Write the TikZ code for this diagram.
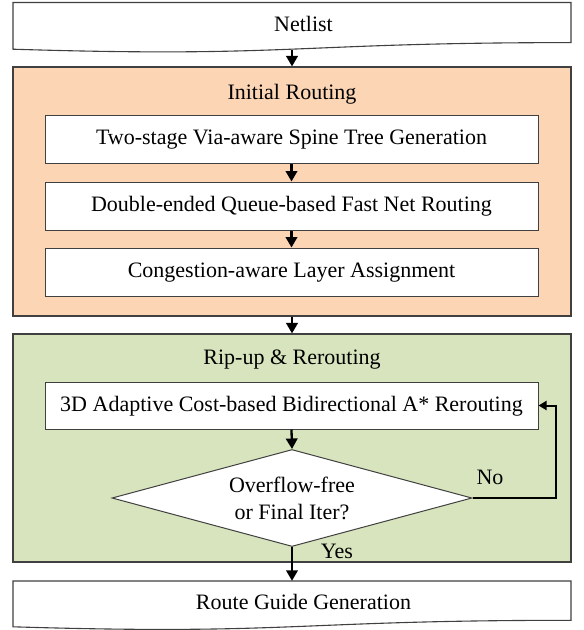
\documentclass[tikz,border=0pt]{standalone}
\usepackage{fontspec}
\setmainfont{Liberation Serif}
\newfontfamily\flowfont{Liberation Serif}
\usetikzlibrary{arrows.meta,shapes.geometric,calc}

\definecolor{peach}{HTML}{FCD5B5}
\definecolor{olive}{HTML}{D7E4BD}
\definecolor{edge}{HTML}{404040}

\tikzset{
  every node/.style={font=\flowfont\fontsize{22}{27}\selectfont},
  capcentre/.style={text height=14.6pt, text depth=3pt, inner sep=0pt},
  panel/.style={draw=edge, line width=1.1pt, minimum width=558pt, inner sep=0pt},
  stepbox/.style={capcentre, draw=edge, line width=1pt, fill=white,
                  minimum width=493pt, minimum height=48pt},
  docbox/.style={capcentre},
  docline/.style={draw=edge, line width=1.1pt, fill=white},
  decision/.style={diamond, draw=edge, line width=1pt, fill=white, inner sep=0pt,
                   minimum width=360pt, minimum height=97pt, aspect=3.7, align=center},
  flow/.style={line width=2.3pt, -{Triangle[length=10.5pt,width=11.5pt]}},
  back/.style={line width=2pt, -{Triangle[length=8pt,width=9pt]}},
  title/.style={capcentre}
}

\begin{document}
\begin{tikzpicture}[x=1pt,y=-1pt]
\useasboundingbox (0,0) rectangle (584,630);

% input document
\path[docline] (13,2.5) -- (571,2.5) -- (571,42.6)
  .. controls (292,42.6) and (292,57.9) .. (13,49.2) -- cycle;
\node[docbox, minimum height=47pt] (netlist) at (303.5,26) {Netlist};

% initial routing stage
\node[panel, fill=peach, minimum height=249pt] (initpanel) at (292,191.5) {};
\node[title] (inittitle) at (292,93.5) {Initial Routing};
\node[stepbox] (spine) at (291.5,139) {Two-stage Via-aware Spine Tree Generation};
\node[stepbox] (deque) at (291.5,206) {Double-ended Queue-based Fast Net Routing};
\node[stepbox] (layer) at (291.5,272) {Congestion-aware Layer Assignment};

% rip-up and rerouting stage
\node[panel, fill=olive, minimum height=228pt] (rrpanel) at (292,448) {};
\node[title] (rrtitle) at (292,358.5) {Rip-up \& Rerouting};
\node[stepbox, minimum height=47pt] (reroute) at (291.5,405.5) {3D Adaptive Cost-based Bidirectional A* Rerouting};
\node[decision] (dec) at (292,498) {Overflow-free\\or Final Iter?};

% output document
\path[docline] (13,581) -- (571,581) -- (571,620.3)
  .. controls (292,620.3) and (292,635.3) .. (13,626.8) -- cycle;
\node[docbox, minimum height=46pt] (guide) at (303.5,604) {Route Guide Generation};

% connectors
\draw[flow] ([yshift=-0.6pt]initpanel.north |- netlist.south) -- (initpanel.north);
\draw[flow] (spine.south) -- (deque.north);
\draw[flow] (deque.south) -- (layer.north);
\draw[flow] (initpanel.south) -- (rrpanel.north);
\draw[flow] (reroute.south) -- (dec.north);
\draw[flow] (dec.south) -- (dec.south |- guide.north);
\draw[back] (dec.east) -| ([xshift=17pt]reroute.east) -- (reroute.east);

% branch labels
\node[anchor=base, inner sep=0pt] (nolabel) at (490,484) {No};
\node[anchor=base, inner sep=0pt] (yeslabel) at (337,558) {Yes};
\end{tikzpicture}
\end{document}
